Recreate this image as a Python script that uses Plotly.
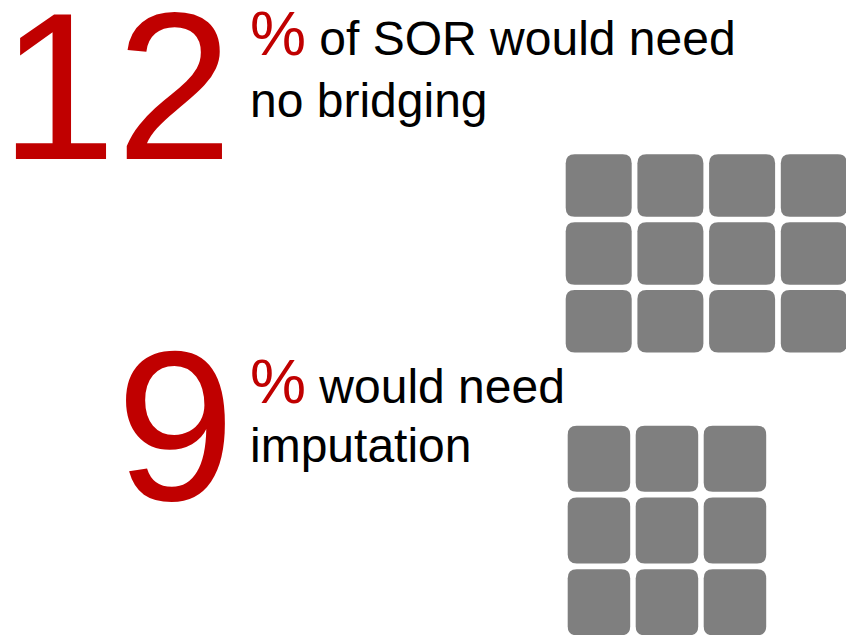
import plotly.graph_objects as go

# ---- data ----
percent_values = [12, 9]
headline_rest = ["of SOR would need", "would need"]
second_lines = ["no bridging", "imputation"]
grid_columns = [4, 3]

RED = "#C00000"
GREY = "#7F7F7F"
FONT = "Liberation Sans, Arial, sans-serif"

W, H = 846, 635

# layout (pixel-like data coordinates); num_right = right edge of the big number's text box
blocks = [
    dict(num_right=234, num_base=159, num_size=209, txt_x=248, base1=55, base2=117,
         gx0=565.7, gy0=154.3, pitch_x=71.7, pitch_y=67.9, cw=66.0, ch=62.5),
    dict(num_right=237, num_base=500, num_size=214, txt_x=248, base1=403, base2=462,
         gx0=567.7, gy0=425.7, pitch_x=68.0, pitch_y=71.8, cw=62.5, ch=66.0),
]

TXT = 48
PCT = 63
ASC_MID = 0.3465  # (ascent - descent)/2 for Liberation Sans


def rounded_rect(x0, y0, x1, y1, r):
    return (f"M {x0+r},{y0} L {x1-r},{y0} Q {x1},{y0} {x1},{y0+r} "
            f"L {x1},{y1-r} Q {x1},{y1} {x1-r},{y1} L {x0+r},{y1} "
            f"Q {x0},{y1} {x0},{y1-r} L {x0},{y0+r} Q {x0},{y0} {x0+r},{y0} Z")


fig = go.Figure()
fig.add_trace(go.Scatter(x=[0, W], y=[0, H], mode="markers",
                         marker=dict(opacity=0), hoverinfo="skip", showlegend=False))

shapes = []
annotations = []
for val, rest, l2, cols, b in zip(percent_values, headline_rest, second_lines, grid_columns, blocks):
    # big number
    annotations.append(dict(
        x=b["num_right"], y=b["num_base"] - ASC_MID * b["num_size"], xref="x", yref="y",
        xanchor="right", yanchor="middle", showarrow=False,
        text=str(val), font=dict(family=FONT, size=b["num_size"], color=RED)))
    # first text line with red %
    annotations.append(dict(
        x=b["txt_x"], y=b["base1"] - ASC_MID * PCT, xref="x", yref="y",
        xanchor="left", yanchor="middle", showarrow=False,
        text=f"<span style='color:{RED};font-size:{PCT}px'>%</span> {rest}",
        font=dict(family=FONT, size=TXT, color="black")))
    # second text line
    annotations.append(dict(
        x=b["txt_x"], y=b["base2"] - ASC_MID * TXT, xref="x", yref="y",
        xanchor="left", yanchor="middle", showarrow=False,
        text=l2, font=dict(family=FONT, size=TXT, color="black")))
    # grid of rounded squares, one per percentage point
    for i in range(val):
        r_i, c_i = divmod(i, cols)
        x0 = b["gx0"] + c_i * b["pitch_x"]
        y0 = b["gy0"] + r_i * b["pitch_y"]
        shapes.append(dict(type="path", xref="x", yref="y",
                           path=rounded_rect(x0, y0, x0 + b["cw"], y0 + b["ch"], 9),
                           fillcolor=GREY, line=dict(width=0), layer="above"))

fig.update_layout(
    width=W, height=H, margin=dict(l=0, r=0, t=0, b=0),
    paper_bgcolor="white", plot_bgcolor="white",
    xaxis=dict(range=[0, W], visible=False, fixedrange=True),
    yaxis=dict(range=[H, 0], visible=False, fixedrange=True),
    shapes=shapes, annotations=annotations, showlegend=False,
)

fig.write_html("out.html", config={"displayModeBar": False},
               post_script="document.body.style.margin='0';document.body.style.overflow='hidden';")
